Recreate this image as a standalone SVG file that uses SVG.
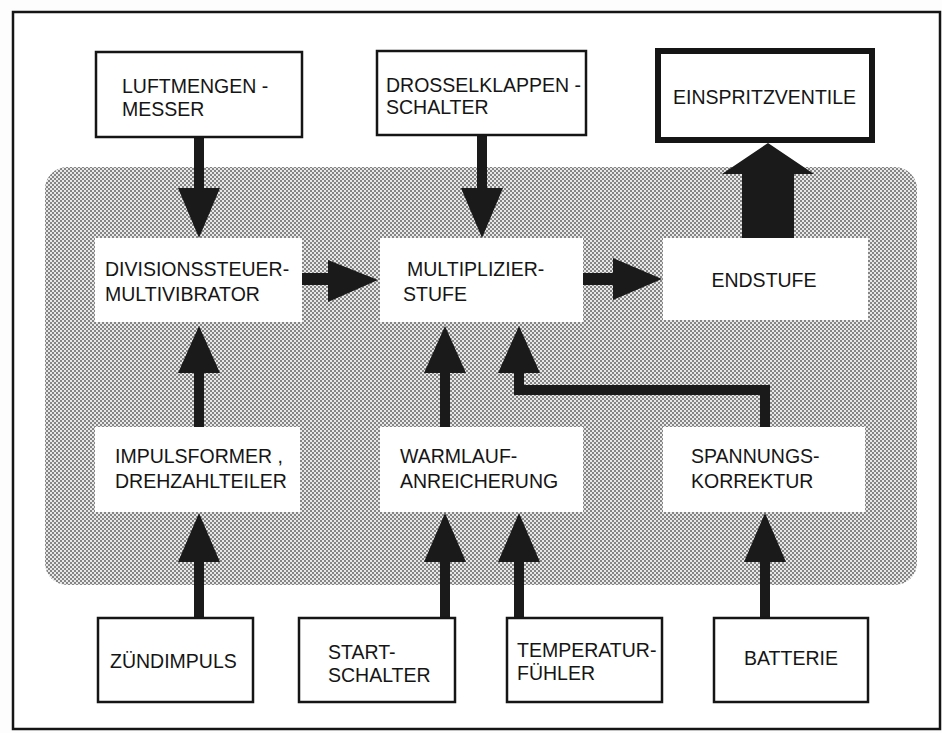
<svg xmlns="http://www.w3.org/2000/svg" width="942" height="733" viewBox="0 0 942 733">
<defs>
<pattern id="dots" width="4" height="4" patternUnits="userSpaceOnUse">
<rect width="4" height="4" fill="#e8e8e8"/>
<rect x="0" y="0" width="2" height="2" fill="#858585"/>
<rect x="2" y="2" width="2" height="2" fill="#858585"/>
</pattern>
</defs>
<style>
text{font-family:"Liberation Sans",Arial,sans-serif;font-size:19.5px;fill:#151515}
.box{fill:#fff;stroke:#151515;stroke-width:2.5}
.thick{fill:#fff;stroke:#151515;stroke-width:6}
.inner{fill:#fff}
.arrow{fill:#1a1a1a}
</style>
<rect width="942" height="733" fill="#fdfdfd"/>
<rect x="13" y="12" width="927" height="717" fill="#fff" stroke="#151515" stroke-width="2.5"/>
<rect x="45" y="167" width="872" height="418" rx="22" fill="url(#dots)"/>

<g id="connectors">
<path class="arrow" d="M194,137 H204 V188 H220 L199,238 L178,188 H194 Z"/>
<path class="arrow" d="M477,135 H487 V188 H503 L482,238 L461,188 H477 Z"/>
<path class="arrow" d="M302,273 H328 V260 L378,280 L328,302 V285 H302 Z"/>
<path class="arrow" d="M583,273 H613 V258 L662,279 L613,300 V285 H583 Z"/>
<path class="arrow" d="M194,427 V373 H178 L199,326 L220,373 H204 V427 Z"/>
<path class="arrow" d="M440,427 V373 H424 L445,326 L466,373 H450 V427 Z"/>
<path class="arrow" d="M760,427 V395 H514 V373 H498 L519,326 L540,373 H524 V385 H770 V427 Z"/>
<path class="arrow" d="M194,618 V562 H178 L199,513 L220,562 H204 V618 Z"/>
<path class="arrow" d="M440,618 V562 H424 L445,513 L466,562 H450 V618 Z"/>
<path class="arrow" d="M514,618 V562 H498 L519,513 L540,562 H524 V618 Z"/>
<path class="arrow" d="M760,618 V562 H744 L765,513 L786,562 H770 V618 Z"/>
<path class="arrow" d="M742,238 V174 H722 L768,143 L814,174 H794 V238 Z"/>
</g>

<g id="luftmengenmesser">
<rect class="box" x="96" y="52" width="206" height="85"/>
<text x="122" y="93" font-size="20">LUFTMENGEN -</text>
<text x="122" y="116" font-size="20">MESSER</text>
</g>
<g id="drosselklappenschalter">
<rect class="box" x="377" y="51" width="209" height="84"/>
<text x="386" y="92">DROSSELKLAPPEN -</text>
<text x="386" y="114">SCHALTER</text>
</g>
<g id="einspritzventile">
<rect class="thick" x="658" y="51" width="214" height="89"/>
<text x="673" y="104">EINSPRITZVENTILE</text>
</g>
<g id="divisionssteuer">
<rect class="inner" x="95" y="238" width="207" height="84"/>
<text x="105" y="276">DIVISIONSSTEUER-</text>
<text x="105" y="301">MULTIVIBRATOR</text>
</g>
<g id="multiplizierstufe">
<rect class="inner" x="380" y="238" width="203" height="84"/>
<text x="407" y="276">MULTIPLIZIER-</text>
<text x="403" y="301">STUFE</text>
</g>
<g id="endstufe">
<rect class="inner" x="663" y="238" width="205" height="82"/>
<text x="764" y="287" text-anchor="middle">ENDSTUFE</text>
</g>
<g id="impulsformer">
<rect class="inner" x="95" y="427" width="205" height="85"/>
<text x="115" y="463">IMPULSFORMER ,</text>
<text x="115" y="488">DREHZAHLTEILER</text>
</g>
<g id="warmlauf">
<rect class="inner" x="380" y="427" width="203" height="85"/>
<text x="400" y="463">WARMLAUF-</text>
<text x="400" y="488">ANREICHERUNG</text>
</g>
<g id="spannungskorrektur">
<rect class="inner" x="663" y="427" width="202" height="85"/>
<text x="691" y="463">SPANNUNGS-</text>
<text x="691" y="488">KORREKTUR</text>
</g>
<g id="zuendimpuls">
<rect class="box" x="98" y="618" width="155" height="84"/>
<text x="110" y="668">ZÜNDIMPULS</text>
</g>
<g id="startschalter">
<rect class="box" x="299" y="618" width="156" height="84"/>
<text x="328" y="659">START-</text>
<text x="328" y="682">SCHALTER</text>
</g>
<g id="temperaturfuehler">
<rect class="box" x="507" y="618" width="155" height="84"/>
<text x="517" y="657" font-size="19">TEMPERATUR-</text>
<text x="517" y="680" font-size="19">FÜHLER</text>
</g>
<g id="batterie">
<rect class="box" x="714" y="618" width="154" height="84"/>
<text x="791" y="665" text-anchor="middle">BATTERIE</text>
</g>
</svg>
